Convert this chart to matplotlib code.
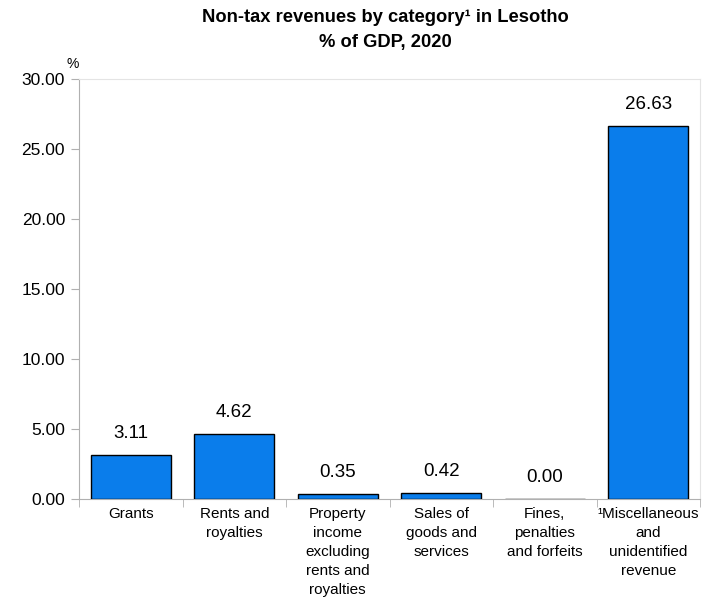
import matplotlib
matplotlib.use("Agg")
import matplotlib.pyplot as plt

# 数据
categories = [
    "Grants",
    "Rents and\nroyalties",
    "Property\nincome\nexcluding\nrents and\nroyalties",
    "Sales of\ngoods and\nservices",
    "Fines,\npenalties\nand forfeits",
    "¹Miscellaneous\nand\nunidentified\nrevenue",
]
values = [3.11, 4.62, 0.35, 0.42, 0.00, 26.63]
yticks = [0, 5, 10, 15, 20, 25, 30]

plt.rcParams["font.family"] = ["Liberation Sans", "DejaVu Sans"]

fig = plt.figure(figsize=(7.18, 6.07), dpi=100)
W, H = 718, 607
ax = fig.add_axes([79 / W, 1 - 499 / H, 621 / W, 420 / H])

x = list(range(len(categories)))
ax.bar(x, values, width=0.77, color="#0A7DEB", edgecolor="black", linewidth=1.0, zorder=3)
for xi, v in zip(x, values):
    ax.annotate(f"{v:.2f}", (xi, v), xytext=(0, 9.5), textcoords="offset points",
                ha="center", va="bottom", fontsize=13.5)

ax.set_xlim(-0.5, len(categories) - 0.5)
ax.set_ylim(0, 30)
ax.set_yticks(yticks)
ax.set_yticklabels([f"{t:.2f}" for t in yticks], fontsize=12.5)
ax.set_xticks(x)
ax.set_xticklabels(categories, fontsize=11, linespacing=1.45)
ax.tick_params(axis="x", length=0, pad=6)
ax.set_xticks([i + 0.5 for i in range(-1, len(categories))], minor=True)
ax.tick_params(axis="x", which="minor", length=6, color="#b0b0b0")
ax.tick_params(axis="y", length=6, color="#b0b0b0", pad=4)

for side in ["left", "bottom"]:
    ax.spines[side].set_color("#b0b0b0")
for side in ["top", "right"]:
    ax.spines[side].set_color("#e4e4e4")

fig.text(73 / W, 1 - 64 / H, "%", fontsize=10, ha="center", va="center")
fig.text(0.537, 1 - 18 / H, "Non-tax revenues by category¹ in Lesotho",
         fontsize=13.2, fontweight="bold", ha="center", va="center")
fig.text(0.537, 1 - 42 / H, "% of GDP, 2020",
         fontsize=13.2, fontweight="bold", ha="center", va="center")

fig.savefig("out.png", dpi=100)
